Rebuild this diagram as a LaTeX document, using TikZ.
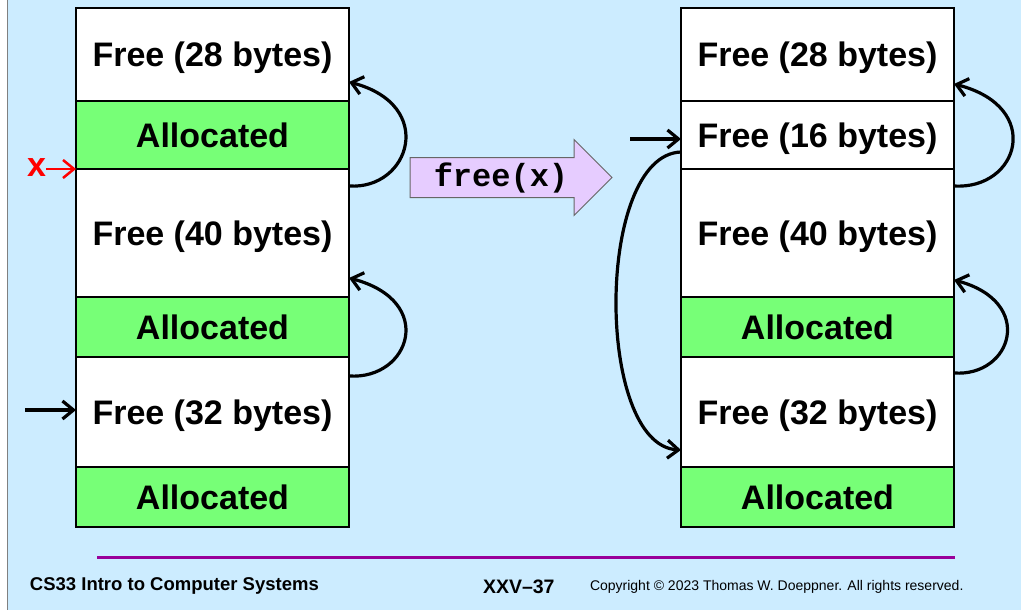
\documentclass[tikz,border=0pt]{standalone}
\usepackage{fontspec}
\setmainfont{Liberation Sans}
\setmonofont{Liberation Mono}
\usetikzlibrary{arrows.meta,positioning,shapes.arrows}
\definecolor{SlideBlue}{HTML}{CCECFF}
\definecolor{BlockGreen}{HTML}{77FF77}
\definecolor{CallViolet}{HTML}{E6CCFF}
\definecolor{RulePurple}{HTML}{990099}

\begin{document}
\begin{tikzpicture}[x=1pt, y=-1pt, line width=2.5pt,
      every node/.append style={font=\fontsize{34}{40}\selectfont\bfseries, inner sep=0pt, outer sep=0pt},
      link/.style={-{Straight Barb[length=11pt,width=18pt]}, line width=3.2pt}]
    \tikzstyle{cell} = [draw=black, line width=1.2pt, minimum width=273pt, fill=white,
      text height=24.5pt, text depth=0pt]
    \tikzstyle{used} = [cell, fill=BlockGreen]
    \useasboundingbox (0,0) rectangle (1021,610);
    \fill[SlideBlue] (8,0) rectangle (1021,610);
    \draw[gray, line width=1pt] (7.5,0) -- (7.5,610);
    % heap before the call
    \node (L1) [cell, minimum height=93pt, anchor=north west] at (76,8) {Free (28 bytes)};
    \node (L2) [used, minimum height=68pt, below=0pt of L1] {Allocated};
    \node (L3) [cell, minimum height=128pt, below=0pt of L2] {Free (40 bytes)};
    \node (L4) [used, minimum height=60pt, below=0pt of L3] {Allocated};
    \node (L5) [cell, minimum height=110pt, below=0pt of L4] {Free (32 bytes)};
    \node (L6) [used, minimum height=60pt, below=0pt of L5] {Allocated};
    % heap after the call
    \node (R1) [cell, minimum height=93pt, anchor=north west] at (681,8) {Free (28 bytes)};
    \node (R2) [cell, minimum height=68pt, below=0pt of R1] {Free (16 bytes)};
    \node (R3) [cell, minimum height=128pt, below=0pt of R2] {Free (40 bytes)};
    \node (R4) [used, minimum height=60pt, below=0pt of R3] {Allocated};
    \node (R5) [cell, minimum height=110pt, below=0pt of R4] {Free (32 bytes)};
    \node (R6) [used, minimum height=60pt, below=0pt of R5] {Allocated};
    % the call
    \node (call) [single arrow, draw=black!60, fill=CallViolet, line width=1pt,
      font=\fontsize{32}{36}\selectfont\ttfamily\bfseries, minimum height=202pt,
      single arrow head extend=18pt, inner xsep=8pt, inner ysep=5.5pt,
      text height=23pt, text depth=5pt, anchor=west] at (410,177.5) {free(x)};
    % links
    \draw[link] ([yshift=-17pt]L3.north east) .. controls +(61,4) and +(88,23) .. ([yshift=19pt]L1.south east);
    \draw[link] ([yshift=-19pt]L5.north east) .. controls +(61,4) and +(88,23) .. ([yshift=19pt]L3.south east);
    \draw[link] ([yshift=-17pt]R3.north east) .. controls +(65,4) and +(90,23) .. ([yshift=17pt]R1.south east);
    \draw[link] ([yshift=-16pt]R5.north east) .. controls +(58,4) and +(82,22) .. ([yshift=17pt]R3.south east);
    \draw[link] ([yshift=17pt]R2.south west) .. controls +(-86,3) and +(-86,-5) .. ([yshift=17pt]R5.south west);
    \coordinate (headL) at (25,410);
    \draw[link] (headL) -- (headL -| L5.west);
    \coordinate (headR) at (630,139);
    \draw[link] (headR) -- (headR -| R2.west);
    \node (x) [text=red, font=\fontsize{34}{36}\selectfont\bfseries, anchor=east] at (46,168) {x};
    \draw[link, red, line width=2.5pt] (x.east |- L3.north west) -- (L3.north west);
    % footer
    \coordinate (rule0) at (97,557);
    \coordinate (rule1) at (955,557);
    \draw[RulePurple, line width=3pt] (rule0) -- (rule1);
    \node (course) [anchor=west, font=\fontsize{18.5}{22}\selectfont\bfseries] at (30,586) {CS33 Intro to Computer Systems};
    \node (slide) [anchor=west, font=\fontsize{19.5}{22}\selectfont\bfseries] at (483,587) {XXV--37};
    \node (copy) [anchor=west, font=\fontsize{14}{16}\selectfont] at (590,587) {Copyright © 2023 Thomas W. Doeppner. All rights reserved.};
\end{tikzpicture}
\end{document}
